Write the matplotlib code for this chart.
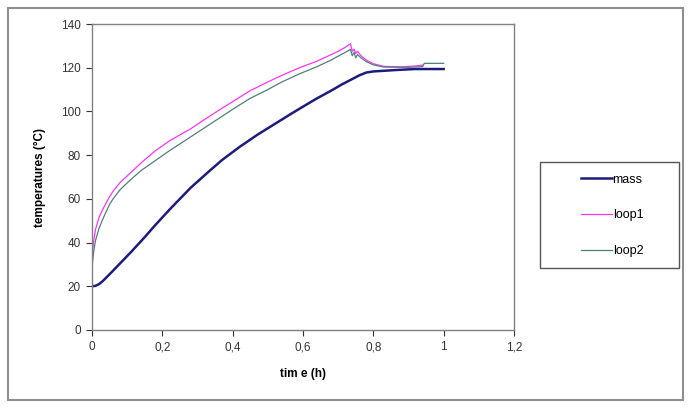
import numpy as np
from matplotlib import pyplot as plt
from matplotlib.patches import Rectangle

# time (h) and temperatures (degC)
t_mass = [0, 0.01, 0.02, 0.03, 0.05, 0.08, 0.11, 0.15, 0.18, 0.22, 0.25, 0.28, 0.33, 0.37,
          0.42, 0.47, 0.52, 0.56, 0.6, 0.64, 0.68, 0.71, 0.735, 0.76, 0.78, 0.8,
          0.83, 0.87, 0.92, 1.0]
mass = [20, 20.2, 21, 22.3, 25.5, 30.5, 35.5, 42.5, 48, 55, 60, 65, 72.2, 77.8,
        83.8, 89.3, 94.3, 98.3, 102.2, 106, 109.5, 112.3, 114.4, 116.5, 117.8, 118.3,
        118.6, 119, 119.4, 119.4]

t_loop1 = [0, 0.005, 0.01, 0.02, 0.03, 0.04, 0.05, 0.06, 0.08, 0.11, 0.14, 0.18,
           0.22, 0.28, 0.32, 0.37, 0.41, 0.45, 0.5, 0.54, 0.59, 0.64, 0.68, 0.7,
           0.72, 0.735, 0.74, 0.745, 0.75, 0.755, 0.765, 0.78, 0.8, 0.83, 0.88,
           0.92, 0.94]
loop1 = [34, 41, 46, 51.5, 55, 58, 61, 63.5, 67.5, 72, 76.5, 82,
         86.5, 92, 96.3, 101.5, 105.5, 109.5, 113.5, 116.5, 120, 123, 126, 127.5,
         129.3, 131, 127.5, 128.5, 126.5, 127.5, 125.5, 123.5, 121.8, 120.6, 120.4,
         120.8, 121.2]

t_loop2 = [0, 0.005, 0.01, 0.02, 0.03, 0.04, 0.05, 0.06, 0.08, 0.11, 0.14, 0.18,
           0.22, 0.28, 0.32, 0.37, 0.41, 0.45, 0.5, 0.54, 0.59, 0.64, 0.68, 0.7,
           0.72, 0.735, 0.74, 0.745, 0.75, 0.755, 0.765, 0.78, 0.8, 0.83, 0.9,
           0.94, 0.945, 1.0]
loop2 = [29, 36, 41, 46.5, 50.5, 54, 57.5, 60, 64.2, 68.8, 73, 77.5,
         82, 88.3, 92.5, 97.8, 102, 106, 110, 113.5, 117.2, 120.5, 123.5, 125.3,
         127, 128.4, 125.5, 127, 124.5, 126, 124.5, 122.8, 121.3, 120.3, 120.2,
         120.5, 122, 122]

xticks = [0, 0.2, 0.4, 0.6, 0.8, 1, 1.2]
xtick_labels = ['0', '0,2', '0,4', '0,6', '0,8', '1', '1,2']
yticks = [0, 20, 40, 60, 80, 100, 120, 140]

plt.rcParams['font.family'] = ['Liberation Sans', 'DejaVu Sans']

fig = plt.figure(figsize=(6.91, 4.09), dpi=100)
ax = fig.add_axes([92/691, 1 - 330/409, 422/691, 306/409])

l_mass, = ax.plot(t_mass, mass, color='#1c1c7e', lw=1.8, label='mass')
l_loop1, = ax.plot(t_loop1, loop1, color='#ff33ff', lw=0.9, label='loop1')
l_loop2, = ax.plot(t_loop2, loop2, color='#4f7f78', lw=0.9, label='loop2')

ax.set_xlim(0, 1.2)
ax.set_ylim(0, 140)
ax.set_xticks(xticks)
ax.set_xticklabels(xtick_labels)
ax.set_yticks(yticks)
ax.tick_params(labelsize=8.5, colors='#333333', length=4, width=0.8, pad=4)
for s in ax.spines.values():
    s.set_color('#808080')
    s.set_linewidth(1.0)

ax.set_xlabel('tim e (h)', fontsize=8.5, fontweight='bold', labelpad=11)
ax.set_ylabel('temperatures (°C)', fontsize=8.5, fontweight='bold', labelpad=11)

# outer chart border
fig.patches.append(Rectangle((8/691, 1 - 400/409), 675/691, 392/409,
                             transform=fig.transFigure, fill=False,
                             edgecolor='#909090', lw=1.5))
# legend box
fig.patches.append(Rectangle((540/691, 1 - 268/409), 139/691, 106/409,
                             transform=fig.transFigure, fill=False,
                             edgecolor='#555555', lw=1.0))
fig.legend(handles=[l_mass, l_loop1, l_loop2], loc='center',
           bbox_to_anchor=(612/691, 1 - 215.5/409), frameon=False,
           fontsize=9, handlelength=2.5, handletextpad=0.05, labelspacing=1.9)

fig.savefig('out.png', dpi=100)
